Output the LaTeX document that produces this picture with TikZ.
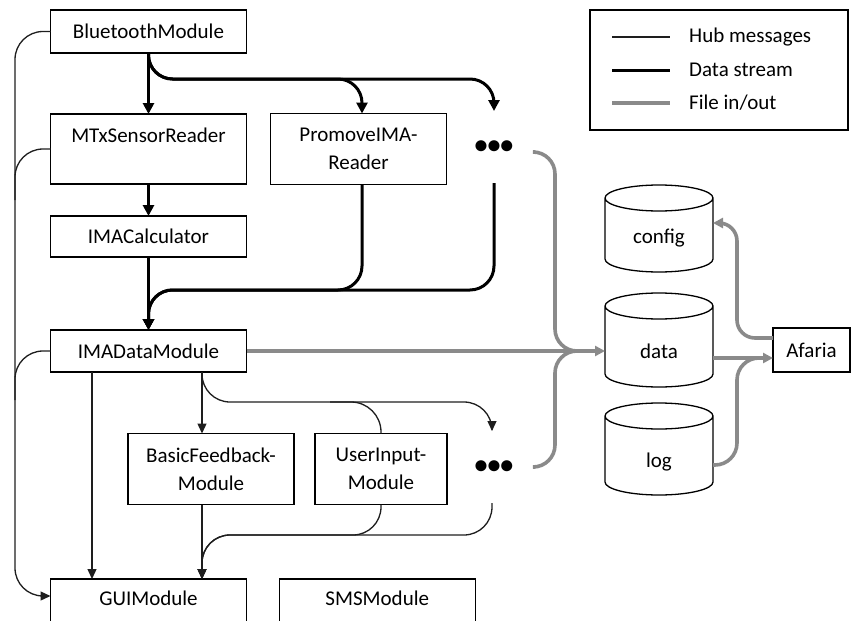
\documentclass[tikz,border=0pt]{standalone}
\usepackage{fontspec}
\setmainfont{Carlito}
\usetikzlibrary{arrows.meta}

\definecolor{filegray}{RGB}{138,138,138}
\definecolor{hubline}{RGB}{30,30,30}

\tikzset{
  mod/.style={draw=black, line width=1.3pt, inner sep=0pt, outer sep=0pt,
    align=center, font=\fontsize{21}{28}\selectfont},
  txt/.style={inner sep=0pt, font=\fontsize{21}{28}\selectfont},
  dbbox/.style={inner sep=0pt, outer sep=0pt, minimum width=108pt},
  dbline/.style={draw=black, line width=1.3pt},
  ellip/.style={inner sep=0pt, outer sep=0pt, minimum width=82pt, minimum height=72pt,
    font=\fontsize{26}{26}\selectfont\bfseries},
  hub/.style={draw=hubline, line width=1.3pt, rounded corners=28pt},
  hubarr/.style={hub, -{Triangle[length=10pt,width=9pt]}},
  stream/.style={draw=black, line width=3pt, rounded corners=24pt},
  streamarr/.style={stream, -{Triangle[length=11pt,width=11pt]}},
  fileio/.style={draw=filegray, line width=3.6pt, rounded corners=22pt},
  filearr/.style={fileio, -{Triangle[length=10pt,width=10pt]}},
}

% outline of a storage cylinder around an (invisible) bounding node
\newcommand\drawdb[1]{%
  \draw[dbline] ([yshift=-13pt]#1.north west) -- ([yshift=13pt]#1.south west)
    arc[start angle=180, end angle=360, x radius=54pt, y radius=13pt]
    -- ([yshift=-13pt]#1.north east)
    arc[start angle=0, end angle=360, x radius=54pt, y radius=13pt];}

\begin{document}
\begin{tikzpicture}[x=1pt, y=-1pt]
  \useasboundingbox (0,0) rectangle (852,621);
  \clip (0,0) rectangle (852,621);

  % ---------- modules ----------
  \node[mod, minimum width=196pt, minimum height=43pt] (bt)  at (148.5,31.5) {BluetoothModule};
  \node[mod, minimum width=196pt, minimum height=70pt] (mtx) at (148.5,149) {MTxSensorReader\\\mbox{}};
  \node[mod, minimum width=176pt, minimum height=71pt] (pro) at (358.5,149) {PromoveIMA-\\Reader};
  \node[ellip] (dotsA) at (494,147) {\textbullet\textbullet\textbullet};
  \node[mod, minimum width=196pt, minimum height=41pt] (cal) at (148.5,236.5) {IMACalculator};
  \node[mod, minimum width=196pt, minimum height=42pt] (ima) at (148.5,351) {IMADataModule};
  \node[mod, minimum width=166pt, minimum height=71pt] (bfm) at (211,469) {BasicFeedback-\\Module};
  \node[mod, minimum width=132pt, minimum height=71pt] (uim) at (381,469) {UserInput-\\Module};
  \node[ellip] (dotsB) at (494,467) {\textbullet\textbullet\textbullet};
  \node[mod, minimum width=196pt, minimum height=66pt, anchor=north] (gui) at (148.5,579) {GUIModule\\\mbox{}};
  \node[mod, minimum width=196pt, minimum height=66pt, anchor=north] (sms) at (377.3,579) {SMSModule\\\mbox{}};
  \node[mod, minimum width=77pt, minimum height=44pt] (afa) at (811.5,350) {Afaria};

  % ---------- storage ----------
  \node[dbbox, minimum height=87pt] (cfg) at (659,228.5) {};
  \node[dbbox, minimum height=94pt] (dat) at (659,340) {};
  \node[dbbox, minimum height=92pt] (log) at (659,449) {};
  \drawdb{cfg}
  \drawdb{dat}
  \drawdb{log}
  \node[txt] (cfgt) at (659,238) {config};
  \node[txt] (datt) at (659,351) {data};
  \node[txt] (logt) at (659,462) {log};

  % ---------- legend ----------
  \node[mod, minimum width=258pt, minimum height=120pt] (leg) at (719,70) {};
  \coordinate (l1a) at (612,37);  \coordinate (l1b) at (670,37);
  \coordinate (l2a) at (612,70);  \coordinate (l2b) at (670,70);
  \coordinate (l3a) at (612,103); \coordinate (l3b) at (670,103);
  \draw[hub] (l1a) -- (l1b);
  \draw[stream] (l2a) -- (l2b);
  \draw[fileio, line cap=butt] (l3a) -- (l3b);
  \node[txt, anchor=west] (t1) at (689,37) {Hub messages};
  \node[txt, anchor=west] (t2) at (689,70) {Data stream};
  \node[txt, anchor=west] (t3) at (689,103) {File in/out};

  % ---------- data stream ----------
  \draw[streamarr] (bt.south) -- (mtx.north);
  \draw[streamarr] (bt.south) -- (148.5,79) -- (362,79) -- ([xshift=3.5pt]pro.north);
  \draw[streamarr] (bt.south) -- (148.5,79) -- (494,79) -- (dotsA.north);
  \draw[streamarr] (mtx.south) -- (cal.north);
  \draw[streamarr] (cal.south) -- (ima.north);
  \draw[streamarr] ([xshift=3.5pt]pro.south) -- (362,290) -- (148.5,290) -- (ima.north);
  \draw[streamarr] (dotsA.south) -- (494,290) -- (148.5,290) -- (ima.north);

  % ---------- hub messages ----------
  \draw[hubarr] (bt.west) -- (15,31.5) -- (15,596) -- ([yshift=-17pt]gui.north west);
  \draw[hub] (mtx.west) -- (15,149) -- (15,200);
  \draw[hub] (ima.west) -- (15,351) -- (15,400);
  \draw[hubarr] ([xshift=-56.5pt]ima.south) -- ([xshift=-56.5pt]gui.north);
  \draw[hubarr] ([xshift=53.5pt]ima.south) -- ([xshift=-9pt]bfm.north);
  \draw[hubarr] ([xshift=53.5pt]ima.south) -- (202,402) -- (492,402) -- ([xshift=-2pt]dotsB.north);
  \draw[hub, rounded corners=30pt] (uim.north) -- (381,402) -- (330,402);
  \draw[hubarr] ([xshift=-9pt]bfm.south) -- ([xshift=53.5pt]gui.north);
  \draw[hubarr] (uim.south) -- (381,535) -- (202,535) -- ([xshift=53.5pt]gui.north);
  \draw[hubarr] ([xshift=-2pt]dotsB.south) -- (492,535) -- (202,535) -- ([xshift=53.5pt]gui.north);

  % ---------- file in/out ----------
  \draw[filearr] (ima.east) -- (dat.west |- ima.east);
  \draw[fileio] ([yshift=-5pt]dotsA.east) -- (555,152) -- (555,351) -- (592,351);
  \draw[fileio] (dotsB.east) -- (555,467) -- (555,351) -- (592,351);
  \draw[filearr] (dat.east |- 0,358) -- (afa.west |- 0,358);
  \draw[fileio] (log.east |- 0,465) -- (737,465) -- (737,358) -- (760,358);
  \draw[filearr, rounded corners=18pt] (afa.west |- 0,338) -- (737,338) -- (737,223) -- (cfg.east |- 0,223);
\end{tikzpicture}
\end{document}
